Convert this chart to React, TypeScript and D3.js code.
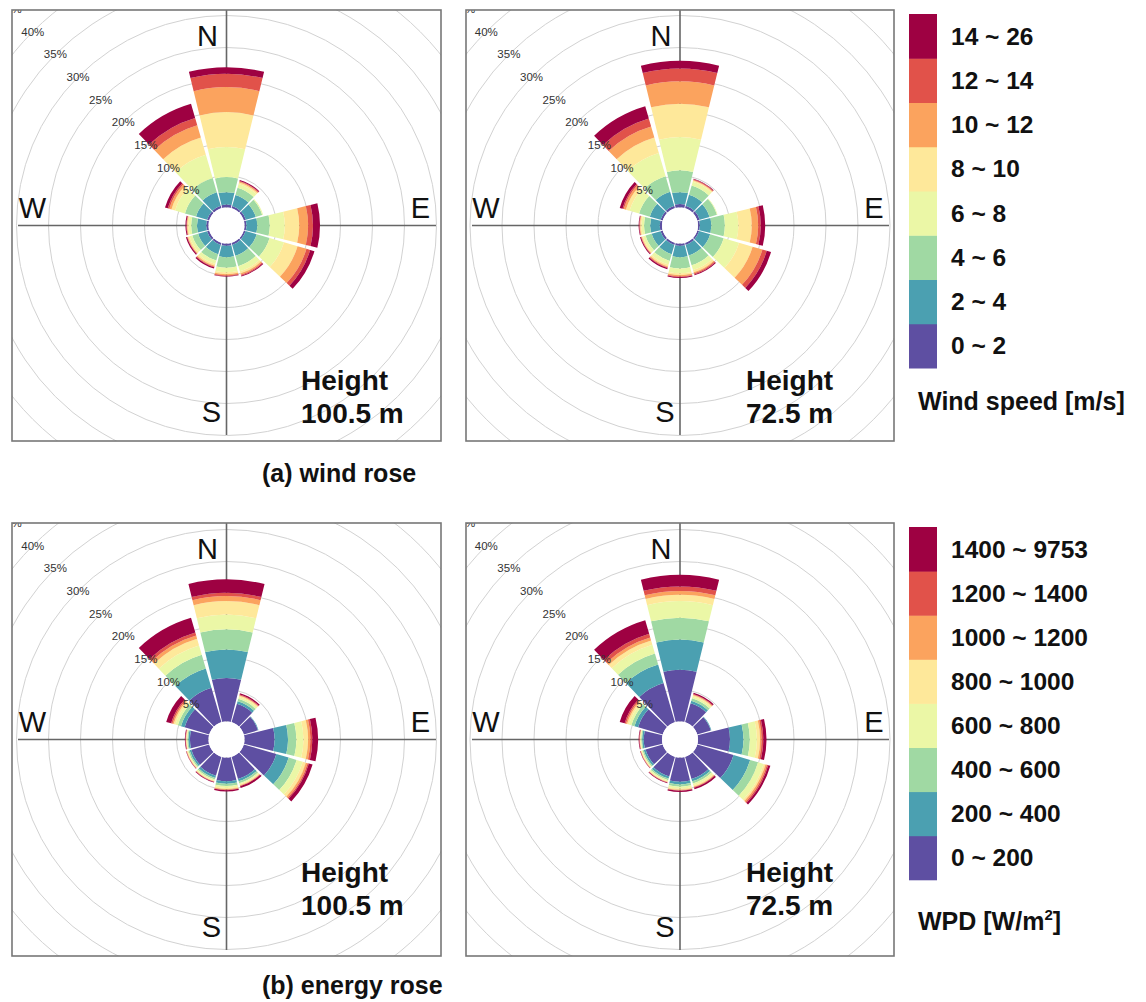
import React from 'react';
import * as d3 from 'd3';

// 12 direction sectors, degrees clockwise from north
const directions = [0, 30, 60, 90, 120, 150, 180, 210, 240, 270, 300, 330];
const ringTicks = [5, 10, 15, 20, 25, 30, 35, 40, 45, 50];
const ringLabels = [5, 10, 15, 20, 25, 30, 35, 40, 45];

const windBins = ['0 ~ 2', '2 ~ 4', '4 ~ 6', '6 ~ 8', '8 ~ 10', '10 ~ 12', '12 ~ 14', '14 ~ 26'];
const wpdBins = ['0 ~ 200', '200 ~ 400', '400 ~ 600', '600 ~ 800', '800 ~ 1000', '1000 ~ 1200', '1200 ~ 1400', '1400 ~ 9753'];

// frequency [%] per sector (rows follow directions), split by bins (low -> high)
const wind1005 = [
  [0.45, 1.95, 2.35, 4.7, 5.45, 3.9, 2.1, 1.0],
  [0.35, 1.8, 1.2, 0.6, 0.25, 0.15, 0.1, 0.15],
  [0.35, 1.6, 1.05, 0.15, 0, 0, 0, 0],
  [0.3, 1.7, 1.95, 2.35, 2.25, 1.4, 0.75, 1.1],
  [0.3, 1.8, 2.1, 2.35, 2.2, 1.45, 0.6, 0.7],
  [0.35, 1.75, 1.7, 0.85, 0.35, 0.2, 0.15, 0.15],
  [0.35, 1.8, 1.65, 0.7, 0.3, 0.2, 0.1, 0.1],
  [0.35, 1.5, 1.05, 0.55, 0.3, 0.15, 0.1, 0.2],
  [0.35, 1.45, 0.95, 0.45, 0.25, 0.1, 0.05, 0.2],
  [0.35, 1.45, 0.9, 0.4, 0.2, 0.1, 0.05, 0.15],
  [0.35, 1.8, 1.8, 1.6, 0.6, 0.35, 0.25, 0.45],
  [0.4, 2.2, 2.3, 3.8, 2.8, 2.0, 1.2, 2.3],
];

const wind725 = [
  [0.55, 1.85, 3.4, 5.2, 5.2, 3.5, 2.0, 1.2],
  [0.4, 1.8, 1.5, 0.6, 0.2, 0.1, 0.1, 0.1],
  [0.4, 1.6, 1.2, 0.1, 0, 0, 0, 0],
  [0.3, 1.8, 2.1, 2.1, 2.1, 1.0, 0.4, 0.7],
  [0.3, 1.8, 2.2, 2.5, 2.2, 1.6, 0.7, 0.7],
  [0.35, 1.7, 1.6, 0.8, 0.35, 0.2, 0.15, 0.15],
  [0.35, 1.8, 1.75, 0.75, 0.3, 0.2, 0.1, 0.15],
  [0.35, 1.5, 1.1, 0.6, 0.3, 0.15, 0.1, 0.2],
  [0.35, 1.45, 1.0, 0.4, 0.2, 0.1, 0.05, 0.15],
  [0.35, 1.5, 0.95, 0.4, 0.2, 0.1, 0.05, 0.1],
  [0.35, 1.75, 1.75, 1.55, 0.6, 0.35, 0.2, 0.45],
  [0.4, 2.3, 2.5, 3.8, 2.5, 1.8, 1.3, 2.0],
];

const energy1005 = [
  [6.8, 4.45, 3.15, 2.3, 2.1, 0.8, 0.5, 2.1],
  [3.0, 0.4, 0.4, 0.3, 0.2, 0.1, 0.1, 0.2],
  [2.3, 0.1, 0, 0, 0, 0, 0, 0],
  [4.7, 2.1, 1.3, 1.1, 0.75, 0.35, 0.3, 0.9],
  [5.3, 2.0, 1.3, 1.0, 0.5, 0.3, 0.2, 0.6],
  [3.6, 0.4, 0.3, 0.2, 0.15, 0.1, 0.05, 0.3],
  [3.7, 0.4, 0.35, 0.3, 0.2, 0.1, 0.05, 0.2],
  [3.1, 0.35, 0.25, 0.2, 0.1, 0.05, 0.05, 0.1],
  [2.9, 0.3, 0.2, 0.15, 0.1, 0.05, 0.05, 0.05],
  [2.9, 0.25, 0.15, 0.1, 0.1, 0.05, 0.05, 0.1],
  [4.0, 0.6, 0.5, 0.4, 0.3, 0.2, 0.2, 0.8],
  [5.6, 3.15, 2.25, 1.5, 1.1, 0.5, 0.5, 2.4],
];

const energy725 = [
  [8.1, 4.7, 3.4, 2.6, 1.0, 0.6, 0.7, 1.8],
  [3.1, 0.4, 0.4, 0.3, 0.2, 0.1, 0.1, 0.2],
  [2.2, 0.1, 0, 0, 0, 0, 0, 0],
  [5.0, 2.1, 1.0, 1.1, 0.5, 0.25, 0.25, 0.5],
  [5.9, 2.7, 1.3, 0.9, 0.3, 0.25, 0.2, 0.35],
  [3.6, 0.4, 0.35, 0.3, 0.2, 0.1, 0.1, 0.25],
  [3.8, 0.4, 0.35, 0.3, 0.2, 0.1, 0.05, 0.2],
  [3.2, 0.35, 0.25, 0.2, 0.1, 0.05, 0.05, 0.1],
  [2.8, 0.3, 0.2, 0.15, 0.1, 0.05, 0.05, 0.05],
  [2.85, 0.25, 0.15, 0.1, 0.1, 0.05, 0.05, 0.1],
  [4.0, 0.6, 0.5, 0.4, 0.3, 0.2, 0.2, 0.8],
  [6.4, 3.0, 1.8, 1.4, 0.7, 0.5, 0.6, 2.2],
];

const colors = d3.quantize(d3.interpolateSpectral, 8).reverse();
const font = 'Liberation Sans, Arial, Helvetica, sans-serif';

const rScale = d3.scaleLinear().domain([0, 45]).range([18, 306]);
const arcGen = d3.arc();
const halfWidth = (13.75 * Math.PI) / 180;

function Rose({ id, x, y, w, h, data, heightText, hx, hy }) {
  const cx = x + w / 2;
  const cy = y + h / 2;
  const diag = Math.SQRT1_2;
  return (
    <g>
      <clipPath id={id}>
        <rect x={x} y={y} width={w} height={h} />
      </clipPath>
      <rect x={x} y={y} width={w} height={h} fill="#fff" />
      <g clipPath={`url(#${id})`}>
        {ringTicks.map(t => (
          <circle key={t} cx={cx} cy={cy} r={rScale(t)} fill="none" stroke="#d2d2d2" strokeWidth={1} />
        ))}
        <line x1={x + 6} x2={x + w - 5} y1={cy} y2={cy} stroke="#666" strokeWidth={1.6} />
        <line x1={cx} x2={cx} y1={y} y2={y + h - 6} stroke="#666" strokeWidth={1.6} />
        <g transform={`translate(${cx},${cy})`}>
          {directions.map((dir, i) => {
            const a = (dir * Math.PI) / 180;
            const cum = d3.cumsum(data[i]);
            return data[i].map((v, j) =>
              v > 0 ? (
                <path
                  key={`${dir}-${j}`}
                  d={arcGen({
                    innerRadius: rScale(j === 0 ? 0 : cum[j - 1]),
                    outerRadius: rScale(cum[j]),
                    startAngle: a - halfWidth,
                    endAngle: a + halfWidth,
                  })}
                  fill={colors[j]}
                />
              ) : null
            );
          })}
          <circle r={rScale(0)} fill="#fff" />
        </g>
        {ringLabels.map(t => (
          <text
            key={t}
            x={cx - rScale(t) * diag}
            y={cy - rScale(t) * diag}
            textAnchor="middle"
            dominantBaseline="central"
            fontFamily={font}
            fontSize={11.5}
            fill="#333"
          >
            {t}%
          </text>
        ))}
      </g>
      <rect x={x} y={y} width={w} height={h} fill="none" stroke="#777" strokeWidth={1.6} />
      <text x={cx - 19} y={y + 36} textAnchor="middle" fontFamily={font} fontSize={29} fill="#111">N</text>
      <text x={cx + 194} y={cy - 8} textAnchor="middle" fontFamily={font} fontSize={29} fill="#111">E</text>
      <text x={cx - 194} y={cy - 8} textAnchor="middle" fontFamily={font} fontSize={29} fill="#111">W</text>
      <text x={cx - 15} y={y + h - 19} textAnchor="middle" fontFamily={font} fontSize={29} fill="#111">S</text>
      <text x={hx} y={hy} fontFamily={font} fontSize={28} fontWeight="bold" fill="#111">Height</text>
      <text x={hx} y={hy + 33} fontFamily={font} fontSize={28} fontWeight="bold" fill="#111">{heightText}</text>
    </g>
  );
}

function Legend({ x, y, labels, blockH, children, titleY }) {
  return (
    <g>
      {labels.map((lab, i) => {
        const top = y + (labels.length - 1 - i) * blockH;
        return (
          <g key={lab}>
            <rect x={x} y={top} width={28} height={blockH + 0.5} fill={colors[i]} />
            <text
              x={x + 42}
              y={top + blockH / 2}
              dominantBaseline="central"
              fontFamily={font}
              fontSize={24.5}
              fontWeight="bold"
              fill="#111"
            >
              {lab}
            </text>
          </g>
        );
      })}
      <text x={x + 9} y={titleY} fontFamily={font} fontSize={25} fontWeight="bold" fill="#111">
        {children}
      </text>
    </g>
  );
}

export default function App() {
  return (
    <svg
      width={1146}
      height={1002}
      style={{ position: 'absolute', left: 0, top: 0, background: '#fff' }}
    >
      <rect width={1146} height={1002} fill="#fff" />
      <Rose id="p1" x={12} y={10} w={429} h={431} data={wind1005} heightText="100.5 m" hx={301} hy={390} />
      <Rose id="p2" x={466} y={10} w={428} h={431} data={wind725} heightText="72.5 m" hx={746} hy={390} />
      <Rose id="p3" x={12} y={523} w={429} h={433} data={energy1005} heightText="100.5 m" hx={301} hy={882} />
      <Rose id="p4" x={466} y={523} w={428} h={433} data={energy725} heightText="72.5 m" hx={746} hy={882} />

      <Legend x={909} y={14} labels={windBins} blockH={44.25} titleY={410}>
        Wind speed [m/s]
      </Legend>
      <Legend x={909} y={527} labels={wpdBins} blockH={44.1} titleY={930}>
        WPD [W/m<tspan fontSize={15} dy={-10}>2</tspan>
        <tspan dy={10}>]</tspan>
      </Legend>

      <text x={262} y={482} fontFamily={font} fontSize={25} fontWeight="bold" fill="#111">(a) wind rose</text>
      <text x={262} y={994} fontFamily={font} fontSize={25} fontWeight="bold" fill="#111">(b) energy rose</text>
    </svg>
  );
}
